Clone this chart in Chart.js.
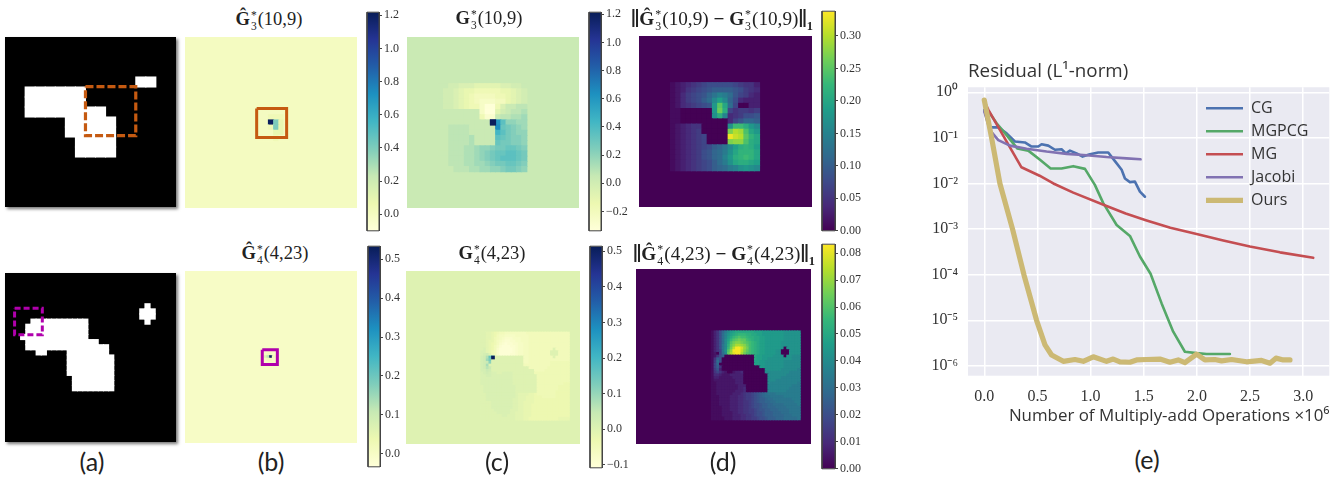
<!DOCTYPE html>
<html><head><meta charset="utf-8">
<script src="https://cdn.jsdelivr.net/npm/chart.js@4"></script>
<style>
html,body{margin:0;padding:0;background:#fff;width:1341px;height:477px;overflow:hidden}
canvas{position:absolute;display:block}
.t{position:absolute;transform:translate(-50%,-50%);white-space:nowrap;color:#222;font-family:"Liberation Serif",serif;font-size:18.5px;line-height:1}
.wide{font-size:19.2px}
.ss{display:inline-block;vertical-align:middle;font-size:.62em;line-height:.95;text-align:left;margin:0 1px}
.c{position:absolute;transform:translate(-50%,-50%);white-space:nowrap;color:#222;font-family:Lato,"Open Sans",sans-serif;font-size:25px;line-height:1}
.bar{font-size:1.35em;font-weight:bold;vertical-align:-2px;line-height:0}
.t sub{font-size:.65em;font-weight:bold;vertical-align:-5px;line-height:0}
</style></head><body>
<script>
// ---------- panel (e): residual curves (x in 1e6 operations, y as log10 residual)
const cgX=[0,.053,.132,.21,.288,.382,.445,.508,.539,.602,.665,.727,.768,.806,.868,.925,.994,1.072,1.166,1.229,1.292,1.323,1.37,1.417,1.464,1.511];
const cgLog=[-.39,-.77,-.77,-.9,-1.08,-1.1,-1.19,-1.19,-1.14,-1.17,-1.26,-1.25,-1.34,-1.28,-1.34,-1.41,-1.36,-1.32,-1.32,-1.51,-1.7,-1.89,-1.97,-1.96,-2.18,-2.29];
const mgpcgX=[0,.116,.21,.31,.414,.524,.624,.727,.837,.947,1.04,1.119,1.245,1.37,1.464,1.564,1.668,1.777,1.887,1.997,2.09,2.31];
const mgpcgLog=[-.28,-.68,-.94,-1.23,-1.28,-1.48,-1.67,-1.67,-1.62,-1.68,-2.03,-2.43,-2.91,-3.15,-3.6,-3.98,-4.63,-5.25,-5.69,-5.72,-5.74,-5.74];
const mgX=[0,.04,.35,.52,.65,.837,1.144,1.33,1.527,1.75,1.997,2.248,2.498,2.781,3.094];
const mgLog=[-.2,-.39,-1.645,-1.83,-2,-2.2,-2.49,-2.66,-2.81,-2.97,-3.11,-3.25,-3.38,-3.51,-3.63];
const jacobiX=[0,.053,.132,.241,.398,.586,.774,.962,1.15,1.339,1.47];
const jacobiLog=[-.42,-.83,-1.05,-1.17,-1.24,-1.3,-1.35,-1.38,-1.42,-1.45,-1.47];
const oursX=[0,.069,.147,.266,.373,.492,.571,.633,.743,.853,.931,1.025,1.15,1.213,1.276,1.37,1.433,1.527,1.652,1.746,1.824,1.887,1.997,2.075,2.169,2.232,2.326,2.467,2.608,2.687,2.743,2.812,2.875];
const oursLog=[-.17,-1,-2,-3,-4,-5,-5.54,-5.76,-5.9,-5.86,-5.9,-5.8,-5.9,-5.85,-5.91,-5.92,-5.87,-5.86,-5.85,-5.92,-5.87,-5.93,-5.74,-5.87,-5.86,-5.89,-5.86,-5.91,-5.88,-5.94,-5.83,-5.87,-5.87];
const xTicks=[0,.5,1,1.5,2,2.5,3];
const yTickExps=[0,-1,-2,-3,-4,-5,-6];
const yTickLabels=['10⁰','10⁻¹','10⁻²','10⁻³','10⁻⁴','10⁻⁵','10⁻⁶'];

// ---------- panel (a): obstacle masks as [row, firstCol, lastCol]
const maskTop=[[4,13,14],[5,2,7],[6,2,7],[7,2,9],[8,6,10],[9,6,10],[10,7,10],[11,7,10]];
const maskBottom=[[6,27,27],[7,26,28],[8,26,28],[9,5,15],[9,27,27],[10,4,15],[11,4,15],[12,3,15],[13,4,17],[14,4,19],[15,6,7],[15,12,19],[16,12,20],[17,12,20],[18,12,20],[19,12,20],[20,13,20],[21,13,20],[22,13,20]];
const boxAtop=[8,13,4.97,9.87], boxAbottom=[1.85,7.2,6.9,12.05];
const boxBtop=[13.75,19.5,13.8,19.4], boxBbottom=[29.2,34.9,29.8,35.3];

// ---------- heat maps, one base-36 digit per cell (spaces only group the digits)
const gHat3=["111111","112221","11vb31","112b31","111331","111211"];
const gHat4=["0110","36q1","0110"];
const g3=["aa99888777778899a","a9987665555566789","a9987654444556789","a9987654333446789","a998765531158aabb",
"aaaaaaaa30079abbc","aaaaaaaa522abbccd","aaaaaaaaaazoieedd","aabbbbaaaaaphgfed","aabbbbaaaaakigfee","aabbbbcaaaaihgffe","aabbbbcaaaahggffe",
"aabbbccdeefgghhgf","aabbbccdefghhiihg","aabbbccdefghiiihg","aabbbccddefgghhgf","aaabbbccddeefggfe"];
const g3Peak=[[7,10,1.2]];
const d3=["12345678888876553","12356789aaaa98654","1246789bdfec97643","124678acgjgb84333","12456789ipkc70033","11000000iql756656","11000000hlf456889","11000000000479bba",
"12345500000hnnlig","12345600000rutoki","12345670000xvupmk","12345670000rssolk","12345678abdgjlmlj","12345689bcehkmmmk","12345689bcfilmnmk","12345678acehkllkj","12345678abcefhihg"];
const g4=["bbaa987665 5555555666 6666666666666","bbaa986554 4445555566 6666666666666","bbaa976543 3344455566 6666666666666","bba9975432 2334455566 6666666666666",
"bba9875321 2233445566 6666666666666","bba9864211 1223445566 6666666666666","bca9863111 1123445566 6666666b66666","cca9763111 1123445566 666666bbb6666",
"cdeb763111 1223445566 666666bbb6666","deiqvbbbbb bbbbbb5566 6666666b66666","dekobbbbbb bbbbbb5566 6666666666666","defmbbbbbb bbbbbb5566 6666667777777",
"dejbbbbbbb bbbbbb6666 6666667777777","dehfbbbbbb bbbbbbbb66 6666677777777","ddfebbbbbb bbbbbbbbbb 6666777777777","cdedccbbcc ccbbbbbbbb 7777777777777",
"ccddcccccc ccbbbbbbbb b777777777777","cccccccccc ccbbbbbbbb b777777777777","cccccccccc ccbbbbbbbb b777777777777","cccccccccc ccbbbbbbbb b777777777788",
"bccccccccc cccbbbbbbb b777777778888","bccccccccc cccbbbbbbb b777777778888","bccccccccc cccbbbbbbb b777777788888","bbcccccccc cccbaaaa99 8777777788888",
"bbcccccccc cccbaaa999 8887777788888","bbcccccccc ccbbaaa999 8888888888888","bbbbcccccc ccbbaa9999 8888888888888","bbbbcccccc ccbbaa9998 8888888888888",
"bbbbcccccc ccbbaa9998 8888888888888","bbbbbccccc cbbbaa9998 8888888888888","bbbbbbcccc cbbaaa9998 8888888888888","bbbbbbbbcc bbbaaa9998 8888888888888","bbbbbbbbbb bbbaaa9988 8888888889999"];
const g4Peak=[[9,4,0.51]];
const d4=["1358begijk kkkkkkjjji iiiiiiihhhhhh","1358cfhjkl mmmllkkjji iiiiiiihhhhhh","1358cfikmn onnmllkkjj iiiiiiihhhhhh","1358cgjmop qppnmlkkjj iiiiiiihhhhhh",
"1358cgkoqr rqponmlkjj iiiiiihhhhhhh","1358dglprt tsrpnmlkjj iiiiiihhhhhhh","1358dgmqux xvsqnmlkjj iiiiiih0hhhhh","1357dhosxx xurpnmlkjj iiiihh000hhhh",
"1207cgptwx xtqonmlkjj iiiihh000hhhh","1258a00000 000000kjji iiihhhh0hhggg","15a9000000 000000kjji ihhhhhhhhhggg","16c8000000 000000jjii hhhhhhhgggggg",
"17b0000000 000000jjii hhhhhhhgggggg","17a5000000 00000000ii hhhhhhhgggggg","1693000000 0000000000 hhhhhhggggggf","1575320023 3400000000 gggggggggffff",
"1443222333 3300000000 0gggggggfffff","1332222233 3300000000 0gggggfffffff","1222222223 3300000000 0gggfffffffff","1122222223 3300000000 0gffffffffffe",
"1122222222 3330000000 0fffffffffeee","1122222222 3340000000 0ffffffffeeee","1122222223 3340000000 0fffffffeeeee","1122222233 34566789ab cdddeeeeeeeee",
"1112222333 44566789ab ccdddddeeeeee","1112222333 44566789aa bccdddddddeee","1112222333 44556789aa bbccdddddddee","1112222333 445567889a abbccccddddde",
"1111222333 445567889a abbbccccddddd","1111222333 4455667899 aabbbccccdddd","1111222233 4455667889 aaabbbcccdddd","1111222233 3445567889 aaabbbbcccddd","1111122233 3445566788 9aaabbbcccccd"];

// ---------- colour ramps and colour-bar ticks
const ylGnBu=['#ffffd9','#edf8b1','#c7e9b4','#7fcdbb','#41b6c4','#1d91c0','#225ea8','#253494','#081d58'];
const viridis=['#440154','#482878','#3e4989','#31688e','#26828e','#1f9e89','#35b779','#6ece58','#b5de2b','#fde725'];
const cb1Ticks=[0,.2,.4,.6,.8,1,1.2], cb1Labels=['0.0','0.2','0.4','0.6','0.8','1.0','1.2'];
const cb2Ticks=[-.2,0,.2,.4,.6,.8,1,1.2], cb2Labels=['−0.2','0.0','0.2','0.4','0.6','0.8','1.0','1.2'];
const cb3Ticks=[0,.05,.1,.15,.2,.25,.3], cb3Labels=['0.00','0.05','0.10','0.15','0.20','0.25','0.30'];
const cb4Ticks=[0,.1,.2,.3,.4,.5], cb4Labels=['0.0','0.1','0.2','0.3','0.4','0.5'];
const cb5Ticks=[-.1,0,.1,.2,.3,.4,.5], cb5Labels=['−0.1','0.0','0.1','0.2','0.3','0.4','0.5'];
const cb6Ticks=[0,.01,.02,.03,.04,.05,.06,.07,.08], cb6Labels=['0.00','0.01','0.02','0.03','0.04','0.05','0.06','0.07','0.08'];

const ORANGE='#c55a11', PURPLE='#b000ac';
function rampColor(stops,t){t=Math.max(0,Math.min(1,t));const p=t*(stops.length-1),i=Math.min(stops.length-2,Math.floor(p)),f=p-i;
 const h=s=>[1,3,5].map(k=>parseInt(s.substr(k,2),16));const a=h(stops[i]),b=h(stops[i+1]);
 return 'rgb('+a.map((v,k)=>Math.round(v+(b[k]-v)*f)).join(',')+')';}
function addCanvas(l,t,w,h){const c=document.createElement('canvas');c.width=w;c.height=h;c.style.cssText=`left:${l}px;top:${t}px;width:${w}px;height:${h}px`;document.body.appendChild(c);return c;}
function boxData(b){return [{x:b[0],y:b[2]},{x:b[1],y:b[2]},{x:b[1],y:b[3]},{x:b[0],y:b[3]},{x:b[0],y:b[2]}];}
const base={responsive:false,animation:false,devicePixelRatio:1,events:[],plugins:{legend:{display:false},tooltip:{enabled:false}}};

function heat(o){
 const c=addCanvas(o.l,o.t,o.w,o.h);c.style.background=o.bg;if(o.shadow)c.style.boxShadow='2px 2px 3px #777';
 const ds=[];
 if(o.box)ds.push({data:boxData(o.box),showLine:true,borderColor:o.boxColor,borderWidth:o.boxW,borderDash:o.dash||[],pointRadius:0,borderCapStyle:'butt',borderJoinStyle:'miter',tension:0});
 const r=(Math.max(o.w,o.h)/o.n+1)*0.7072;
 ds.push({data:o.cells,pointStyle:'rect',pointRadius:r,pointBorderWidth:0,showLine:false,backgroundColor:ctx=>ctx.raw?ctx.raw.c:'#000'});
 new Chart(c,{type:'scatter',data:{datasets:ds},options:{...base,layout:{padding:0,autoPadding:false},scales:{
  x:{type:'linear',display:false,min:0,max:o.n},y:{type:'linear',display:false,min:0,max:o.n,reverse:true}}}});
}
function gridCells(rows,col0,row0,first,step,min,max,ramp,peaks){
 const out=[];rows.forEach((s,r)=>{[...s.replace(/ /g,'')].forEach((ch,k)=>{const v=first+step*parseInt(ch,36);out.push({x:col0+k+.5,y:row0+r+.5,c:rampColor(ramp,(v-min)/(max-min))});});});
 (peaks||[]).forEach(p=>{out.push({x:col0+p[1]+.5,y:row0+p[0]+.5,c:rampColor(ramp,(p[2]-min)/(max-min))});});
 return out;}
function maskCells(runs){const out=[];runs.forEach(m=>{for(let k=m[1];k<=m[2];k++)out.push({x:k+.5,y:m[0]+.5,c:'#fff'});});return out;}

function cbar(o){
 const pad=8,W=48;const c=addCanvas(o.l-1,o.t-pad,W,o.h+2*pad);
 new Chart(c,{type:'scatter',data:{datasets:[
  {data:boxData([0,1,o.min,o.max]),showLine:true,borderColor:'#444',borderWidth:1,pointRadius:0,clip:false},
  {data:[{x:.5,y:o.min},{x:.5,y:o.max}],showLine:true,pointRadius:0,borderWidth:o.w+1,borderCapStyle:'butt',
   borderColor:ctx=>{const a=ctx.chart.chartArea;if(!a)return o.ramp[0];const g=ctx.chart.ctx.createLinearGradient(0,a.bottom,0,a.top);o.ramp.forEach((s,i)=>g.addColorStop(i/(o.ramp.length-1),s));return g;}}
 ]},options:{...base,layout:{autoPadding:false,padding:{left:1,right:0,top:pad,bottom:pad}},scales:{
  x:{type:'linear',display:false,min:0,max:1},
  y:{type:'linear',position:'right',min:o.min,max:o.max,
   afterFit:s=>{s.width=W-1-o.w;},
   afterBuildTicks:s=>{s.ticks=o.ticks.map(v=>({value:v}));},
   grid:{drawOnChartArea:false,drawTicks:true,tickLength:3,color:'#444',lineWidth:1},border:{color:'#444',width:1},
   ticks:{autoSkip:false,padding:2,color:'#333',font:{family:'"Liberation Serif",serif',size:12},maxRotation:0,
    callback:(v)=>{const i=o.ticks.findIndex(t=>Math.abs(t-v)<1e-6);return i<0?'':o.labels[i];}}}}}});
}

// panel (a)
heat({l:5,t:37,w:171,h:170,n:17,bg:'#000',shadow:true,cells:maskCells(maskTop),box:boxAtop,boxColor:ORANGE,boxW:3.2,dash:[8,3]});
heat({l:5,t:273,w:171,h:169,n:33,bg:'#000',shadow:true,cells:maskCells(maskBottom),box:boxAbottom,boxColor:PURPLE,boxW:3,dash:[6,3]});
// panel (b)
heat({l:185,t:37,w:172,h:171,n:33,bg:rampColor(ylGnBu,.1/1.318),cells:gridCells(gHat3,14,14,-.04,.04,-.1,1.218,ylGnBu),box:boxBtop,boxColor:ORANGE,boxW:3});
heat({l:185,t:271,w:172,h:172,n:65,bg:rampColor(ylGnBu,.033/.566),cells:gridCells(gHat4,30,31,0,.02,-.033,.533,ylGnBu),box:boxBbottom,boxColor:PURPLE,boxW:3});
cbar({l:367,t:11,w:12,h:221,min:-.1,max:1.218,ramp:ylGnBu,ticks:cb1Ticks,labels:cb1Labels});
cbar({l:368,t:245,w:12,h:223,min:-.033,max:.533,ramp:ylGnBu,ticks:cb4Ticks,labels:cb4Labels});
// panel (c)
heat({l:407,t:37,w:172,h:171,n:33,bg:rampColor(ylGnBu,(.035+.337)/1.551),cells:gridCells(g3,6,9,-.365,.04,-.337,1.214,ylGnBu,g3Peak)});
heat({l:406,t:271,w:174,h:173,n:65,bg:rampColor(ylGnBu,.108/.622),cells:gridCells(g4,28,23,-.11,.01,-.108,.514,ylGnBu,g4Peak)});
cbar({l:589,t:11,w:12,h:221,min:-.337,max:1.214,ramp:ylGnBu,ticks:cb2Ticks,labels:cb2Labels});
cbar({l:590,t:245,w:12,h:224,min:-.108,max:.514,ramp:ylGnBu,ticks:cb5Ticks,labels:cb5Labels});
// panel (d)
heat({l:639,t:36,w:173,h:171,n:33,bg:viridis[0],cells:gridCells(d3,6,9,0,.01,0,.338,viridis)});
heat({l:636,t:269,w:175,h:175,n:65,bg:viridis[0],cells:gridCells(d4,28,23,0,.0025,0,.0833,viridis)});
cbar({l:822,t:10,w:13,h:222,min:0,max:.338,ramp:viridis,ticks:cb3Ticks,labels:cb3Labels});
cbar({l:822,t:243,w:13,h:227,min:0,max:.0833,ramp:viridis,ticks:cb6Ticks,labels:cb6Labels});

// panel (e)
const pts=(xs,ys)=>xs.map((x,i)=>({x,y:Math.pow(10,ys[i])}));
const line=(label,xs,ys,color,w,order)=>({label,data:pts(xs,ys),borderColor:color,backgroundColor:color,borderWidth:w,pointRadius:0,showLine:true,tension:0,order,borderJoinStyle:'round',borderCapStyle:'round'});
const sansFont='"Open Sans",sans-serif';
const eCanvas=addCanvas(920,50,421,380);
const placeLegend={id:'placeLegend',beforeDraw(ch){
 const a=ch.chartArea,x=ch.ctx;x.save();x.fillStyle='#EAEAF2';x.fillRect(a.left,a.top,a.right-a.left,a.bottom-a.top);x.restore();
 const L=ch.legend;L.left=1199-920;L.right=421;L.top=43.3;L.bottom=380;L.width=142;L.height=337;}};
new Chart(eCanvas,{type:'scatter',plugins:[placeLegend],data:{datasets:[
 line('CG',cgX,cgLog,'#4C72B0',2.6,5),line('MGPCG',mgpcgX,mgpcgLog,'#55A868',2.6,4),line('MG',mgX,mgLog,'#C44E52',2.6,3),line('Jacobi',jacobiX,jacobiLog,'#8172B2',2.6,2),line('Ours',oursX,oursLog,'#CCB974',5.2,1)
]},options:{...base,layout:{autoPadding:false,padding:{left:0,right:11.7,top:0,bottom:0}},
 plugins:{tooltip:{enabled:false},
  title:{display:true,text:'Residual (L¹-norm)',align:'start',fullSize:false,color:'#333',font:{family:sansFont,size:18.8,weight:'normal',lineHeight:1.2},padding:{top:10.7,bottom:4}},
  legend:{display:true,position:'chartArea',align:'start',labels:{usePointStyle:true,pointStyle:'line',pointStyleWidth:37,padding:7,color:'#333',font:{family:sansFont,size:16},
   generateLabels:ch=>ch.data.datasets.map((d,i)=>({text:d.label,strokeStyle:d.borderColor,fillStyle:d.borderColor,lineWidth:d.borderWidth,pointStyle:'line',datasetIndex:i,fontColor:'#333'}))}}},
 scales:{
  x:{type:'linear',min:-.153,max:3.245,afterFit:s=>{s.height=54.3;},afterBuildTicks:s=>{s.ticks=xTicks.map(v=>({value:v}));},
   grid:{color:'#fff',lineWidth:1.5,drawTicks:false},border:{display:false},
   ticks:{padding:11,color:'#333',font:{family:'"Liberation Serif",serif',size:16},maxRotation:0,callback:v=>v.toFixed(1)},
   title:{display:true,text:'Number of Multiply-add Operations ×10⁶',align:'end',color:'#333',font:{family:sansFont,size:16.9,lineHeight:1.2},padding:{top:0,bottom:4}}},
  y:{type:'logarithmic',min:Math.pow(10,-6.215),max:Math.pow(10,.11),afterFit:s=>{s.width=48;},afterBuildTicks:s=>{s.ticks=yTickExps.map(e=>({value:Math.pow(10,e)}));},
   grid:{color:'#fff',lineWidth:1.5,drawTicks:false},border:{display:false},
   ticks:{padding:10,autoSkip:false,color:'#333',font:{family:'"Liberation Serif",serif',size:16},callback:v=>{const e=Math.round(Math.log10(v));const i=yTickExps.indexOf(e);return i<0?'':yTickLabels[i];}}}}},
 });
// text labels
function label(cls,x,y,html){const d=document.createElement('div');d.className=cls;d.style.left=x+'px';d.style.top=y+'px';d.innerHTML=html;document.body.appendChild(d);}
const G=(k,hat)=>`<b>${hat?'Ĝ':'G'}</b><span class="ss">*<br>${k}</span>`;
const BAR='<span class="bar">‖</span>';
label('t',269,21,G(3,true)+'(10,9)');
label('t',275,255,G(4,true)+'(4,23)');
label('t',489,20,G(3,false)+'(10,9)');
label('t',492,255,G(4,false)+'(4,23)');
label('t wide',722,20,BAR+G(3,true)+'(10,9) <b>−</b> '+G(3,false)+'(10,9)'+BAR+'<sub>1</sub>');
label('t wide',724,255,BAR+G(4,true)+'(4,23) <b>−</b> '+G(4,false)+'(4,23)'+BAR+'<sub>1</sub>');
label('c',92,461,'(a)');label('c',271,461,'(b)');label('c',497,461,'(c)');label('c',723,461,'(d)');label('c',1147,459,'(e)');
</script>
</body></html>
